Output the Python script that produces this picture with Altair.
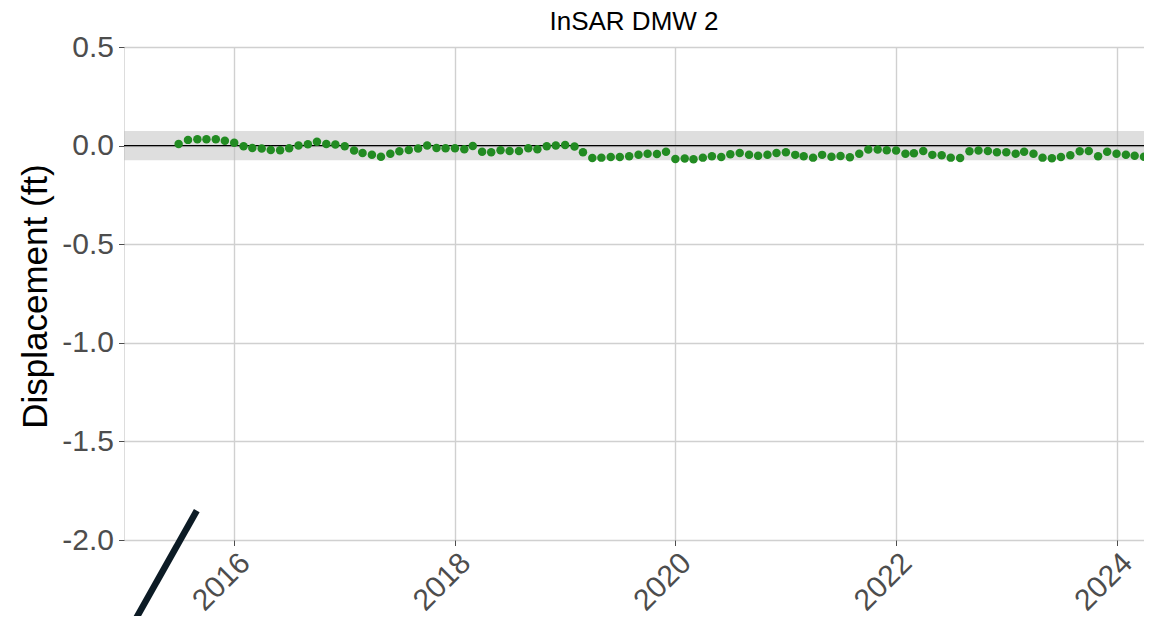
import altair as alt
import pandas as pd

# ---- data ----
dates = (
    [f"2015-{m:02d}-01" for m in range(7, 13)]
    + [f"{y}-{m:02d}-01" for y in range(2016, 2024) for m in range(1, 13)]
    + [f"2024-{m:02d}-01" for m in range(1, 5)]
)
disp = [
    0.008, 0.029, 0.032, 0.032, 0.032, 0.025, 0.014, -0.003, -0.012, -0.015, -0.022, -0.024, -0.014, 0.000, 0.007, 0.020, 0.008,
    0.005, -0.003, -0.025, -0.037, -0.046, -0.056, -0.041, -0.029, -0.022, -0.015, 0.000, -0.012, -0.014, -0.014, -0.019, -0.002, -0.031, -0.034,
    -0.024, -0.027, -0.027, -0.014, -0.019, -0.003, 0.000, 0.003, -0.005, -0.034, -0.063, -0.061, -0.058, -0.058, -0.054, -0.046, -0.041,
    -0.042, -0.031, -0.068, -0.066, -0.069, -0.061, -0.054, -0.058, -0.044, -0.037, -0.046, -0.051, -0.046, -0.037, -0.034, -0.047, -0.054, -0.061,
    -0.047, -0.056, -0.053, -0.059, -0.041, -0.020, -0.020, -0.024, -0.025, -0.041, -0.039, -0.027, -0.047, -0.049, -0.061, -0.063, -0.029,
    -0.025, -0.027, -0.034, -0.034, -0.041, -0.031, -0.041, -0.061, -0.064, -0.058, -0.049, -0.029, -0.027, -0.054, -0.031, -0.041, -0.046, -0.051, -0.056,
]
x_domain = ["2015-01-01", "2024-04-01"]
y_domain = [-2.0, 0.5]
y_ticks = [-2.0, -1.5, -1.0, -0.5, 0.0, 0.5]
x_tick_years = [2016, 2018, 2020, 2022, 2024]
band = [-0.074, 0.074]
slash_x = ["2014-11-20", "2015-08-30"]
slash_y = [-2.62, -1.851]

FONT = "Liberation Sans"
W, H = 1020, 493

df = pd.DataFrame({"date": dates[: len(disp)], "disp": disp})
band_df = pd.DataFrame({"x": [x_domain[0]], "x2": [x_domain[1]], "lo": [band[0]], "hi": [band[1]]})
slash_df = pd.DataFrame({"x": slash_x, "y": slash_y})

xscale = alt.Scale(domain=x_domain, nice=False)
yscale = alt.Scale(domain=y_domain, nice=False, zero=False)

xaxis = alt.Axis(
    title=None,
    values=[alt.DateTime(year=y, month=1, date=1) for y in x_tick_years],
    format="%Y",
    labelAngle=-45,
    labelAlign="right",
    labelBaseline="top",
    labelFontSize=30,
    labelColor="#4d4d4d",
    labelFont=FONT,
    labelPadding=2,
    tickSize=5.5,
    tickColor="#4d4d4d",
    grid=True,
    gridColor="#d0d0d0",
    gridWidth=1.4,
    domain=False,
)
yaxis = alt.Axis(
    title="Displacement (ft)",
    values=y_ticks,
    labelExpr="datum.value < 0 ? '-' + format(-datum.value, '.1f') : format(datum.value, '.1f')",
    labelFontSize=30,
    labelColor="#4d4d4d",
    labelFont=FONT,
    labelPadding=5,
    tickSize=5.5,
    tickColor="#4d4d4d",
    grid=True,
    gridColor="#d0d0d0",
    gridWidth=1.4,
    domain=False,
    titleFont=FONT,
    titleFontSize=35,
    titleFontWeight="normal",
    titleColor="black",
    titleAngle=270,
    titleAlign="center",
    titleBaseline="alphabetic",
    titleX=-78,
    titleY=249,
)

band_layer = alt.Chart(band_df).mark_rect(color="#bdbdbd", opacity=0.5).encode(
    x=alt.X("x:T", scale=xscale, axis=xaxis),
    x2="x2:T",
    y=alt.Y("lo:Q", scale=yscale, axis=yaxis),
    y2="hi:Q",
)

zero_layer = alt.Chart(band_df).mark_rule(color="black", strokeWidth=1.3).encode(
    y=alt.datum(0)
)

points = alt.Chart(df).mark_circle(size=72, color="#228B22", opacity=1, clip=True).encode(
    x=alt.X("date:T", scale=xscale, axis=xaxis),
    y=alt.Y("disp:Q", scale=yscale, axis=yaxis),
)

slash = alt.Chart(slash_df).mark_line(color="#0c1b25", strokeWidth=6.5, strokeCap="butt", clip=False).encode(
    x=alt.X("x:T", scale=xscale, axis=xaxis),
    y=alt.Y("y:Q", scale=yscale, axis=yaxis),
)

chart = (
    alt.layer(band_layer, zero_layer, points, slash)
    .properties(
        width=W,
        height=H,
        title=alt.TitleParams(
            "InSAR DMW 2", font=FONT, fontSize=26, fontWeight="normal", color="black",
            anchor="middle", offset=4, dy=7,
        ),
        autosize=alt.AutoSizeParams(type="none"),
        padding={"left": 116, "top": 39, "right": 0, "bottom": 76},
    )
    .configure_view(stroke="#7f7f7f", strokeWidth=1.2)
    .configure(background="white")
)

chart.save("out.html", embed_options={"renderer": "svg", "actions": False})
